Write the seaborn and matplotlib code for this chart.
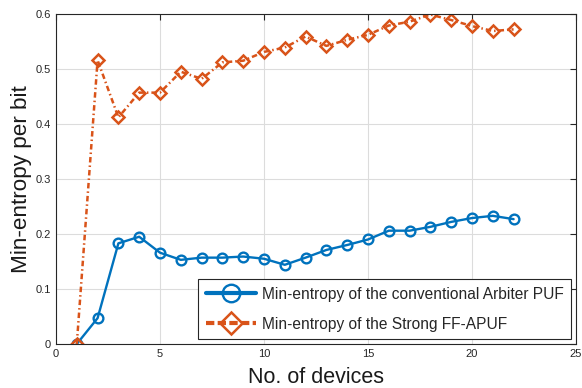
import matplotlib
matplotlib.use("Agg")
import matplotlib.pyplot as plt
import seaborn as sns
import pandas as pd

devices = list(range(1, 23))
arbiter = [0.0, 0.047, 0.183, 0.195, 0.166, 0.153, 0.157, 0.157, 0.159, 0.155, 0.144,
           0.157, 0.171, 0.180, 0.190, 0.206, 0.206, 0.213, 0.222, 0.229, 0.233, 0.227]
ffapuf = [0.0, 0.516, 0.412, 0.457, 0.457, 0.495, 0.482, 0.512, 0.515, 0.531, 0.539,
          0.559, 0.542, 0.553, 0.562, 0.579, 0.586, 0.599, 0.589, 0.578, 0.569, 0.572]
labels = ["Min-entropy of the conventional Arbiter PUF", "Min-entropy of the Strong FF-APUF"]
xticks = [0, 5, 10, 15, 20, 25]
yticks = [0, 0.1, 0.2, 0.3, 0.4, 0.5, 0.6]

sns.set_style("white")
plt.rcParams['font.family'] = ['Liberation Sans', 'DejaVu Sans']

df = pd.DataFrame({"x": devices, "a": arbiter, "f": ffapuf})

fig = plt.figure(figsize=(5.82, 3.88), dpi=100)
ax = fig.add_axes([0.0962, 0.1134, 0.8935, 0.8506])

blue = "#0072BD"
orange = "#D95319"
sns.lineplot(data=df, x="x", y="a", ax=ax, color=blue, linewidth=1.7, marker="o",
             markersize=7, markerfacecolor="none", markeredgecolor=blue, markeredgewidth=1.7,
             label=labels[0])
sns.lineplot(data=df, x="x", y="f", ax=ax, color=orange, linewidth=1.8,
             dashes=(2.2, 1.2, 0.6, 1.2),
             marker="D", markersize=6.5, markerfacecolor="none", markeredgecolor=orange,
             markeredgewidth=1.8, label=labels[1])

ax.set_xlim(0, 25)
ax.set_ylim(0, 0.6)
ax.set_xticks(xticks)
ax.set_yticks(yticks)
ax.set_xticklabels([str(t) for t in xticks])
ax.set_yticklabels(["0", "0.1", "0.2", "0.3", "0.4", "0.5", "0.6"])
ax.grid(True, color="#dcdcdc", linewidth=0.8)
ax.set_axisbelow(True)
for s in ax.spines.values():
    s.set_visible(True)
    s.set_color("#262626")
    s.set_linewidth(0.8)
ax.tick_params(direction="in", length=4, width=0.8, colors="#262626", labelsize=8,
               top=True, right=True, labelcolor="#262626")
ax.set_xlabel("No. of devices", fontsize=15.5, color="#1a1a1a", labelpad=6)
ax.set_ylabel("Min-entropy per bit", fontsize=16.2, color="#1a1a1a", labelpad=3)

leg = ax.legend(loc="lower right", fontsize=11.2, frameon=True, fancybox=False,
                edgecolor="#262626", handlelength=3.2, markerscale=1.8,
                borderaxespad=0.3, labelspacing=0.95, handletextpad=0.4, borderpad=0.5)
leg.get_frame().set_linewidth(0.8)
leg.get_frame().set_alpha(1)
hl = leg.get_lines()
for h in hl:
    h.set_linewidth(3)
hl[1].set_linestyle((0, (2.0, 0.8)))

fig.savefig("out.png", dpi=100)
